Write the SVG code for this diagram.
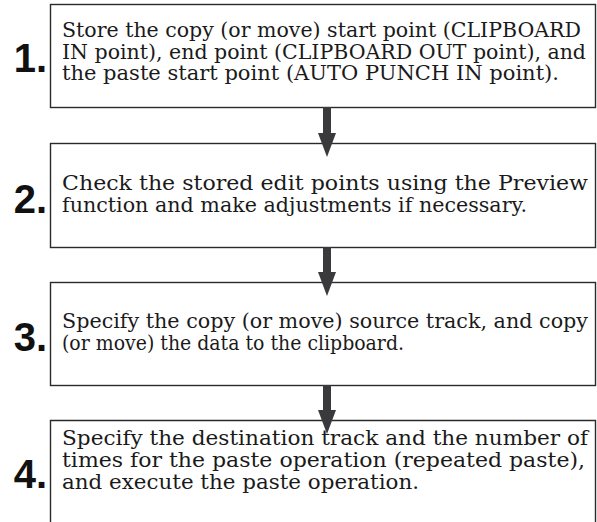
<svg xmlns="http://www.w3.org/2000/svg" width="597" height="522" viewBox="0 0 597 522">
<style>
.box{fill:#fff;stroke:#2a2a2a;stroke-width:1.4}
.t{font-family:"DejaVu Serif",serif;font-size:19.5px;fill:#1a1a1a}
.n{font-family:"Liberation Sans",Arial,sans-serif;font-weight:bold;font-size:40px;fill:#111;text-anchor:end}
.arr{fill:#3a3a3c}
</style>
<rect width="597" height="522" fill="#fff"/>
<g id="step1">
<rect class="box" x="50.5" y="4.5" width="545" height="103"/>
<text class="n" x="47" y="72">1.</text>
<text class="t" x="62" y="37" textLength="519" lengthAdjust="spacingAndGlyphs">Store the copy (or move) start point (CLIPBOARD</text>
<text class="t" x="62" y="58.5" textLength="524" lengthAdjust="spacingAndGlyphs">IN point), end point (CLIPBOARD OUT point), and</text>
<text class="t" x="62" y="80" textLength="497" lengthAdjust="spacingAndGlyphs">the paste start point (AUTO PUNCH IN point).</text>
</g>
<g id="step2">
<rect class="box" x="50.5" y="143.5" width="545" height="104"/>
<text class="n" x="47" y="213">2.</text>
<text class="t" x="62" y="190" textLength="526" lengthAdjust="spacingAndGlyphs">Check the stored edit points using the Preview</text>
<text class="t" x="62" y="212" textLength="465" lengthAdjust="spacingAndGlyphs">function and make adjustments if necessary.</text>
</g>
<g id="step3">
<rect class="box" x="50.5" y="282.5" width="545" height="103"/>
<text class="n" x="47" y="351">3.</text>
<text class="t" x="62" y="328" textLength="526" lengthAdjust="spacingAndGlyphs">Specify the copy (or move) source track, and copy</text>
<text class="t" x="62" y="350" textLength="342" lengthAdjust="spacingAndGlyphs">(or move) the data to the clipboard.</text>
</g>
<g id="step4">
<path class="box" d="M50.5,523 V420.5 H595.5 V523"/>
<text class="n" x="47" y="488">4.</text>
<text class="t" x="62" y="445" textLength="526" lengthAdjust="spacingAndGlyphs">Specify the destination track and the number of</text>
<text class="t" x="62" y="467" textLength="523" lengthAdjust="spacingAndGlyphs">times for the paste operation (repeated paste),</text>
<text class="t" x="62" y="489" textLength="357" lengthAdjust="spacingAndGlyphs">and execute the paste operation.</text>
</g>
<g id="connectors">
<path class="arr" d="M323,107 H331 V133 H336 L327,157 L318,133 H323 Z"/>
<path class="arr" d="M323,247 H331 V272 H336 L327,296 L318,272 H323 Z"/>
<path class="arr" d="M323,385 H331 V410 H336 L327,434 L318,410 H323 Z"/>
</g>
</svg>
